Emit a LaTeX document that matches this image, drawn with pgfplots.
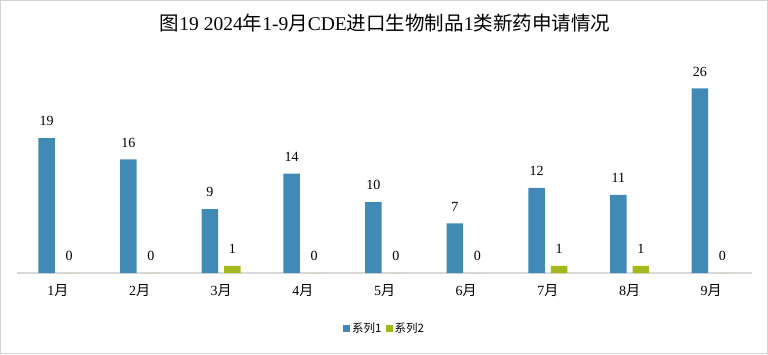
\documentclass[border=0pt]{standalone}
\usepackage{pgfplots}
\pgfplotsset{compat=1.18}
\usepackage{fontspec}
\setmainfont{Liberation Serif}
\newfontfamily\cjk{Noto Sans CJK SC}
\definecolor{sblue}{RGB}{64,138,181}
\definecolor{sgreen}{RGB}{163,185,30}
\begin{document}
\begin{tikzpicture}[x=1pt,y=1pt]
\draw[gray!35, line width=1pt] (0.5,0.5) rectangle (767.5,353.5);
\node[font=\fontsize{19.5}{19.5}\selectfont] at (385,331) {{\cjk 图}19 2024{\cjk 年}1-9{\cjk 月}CDE{\cjk 进口生物制品}1{\cjk 类新药申请情况}};
\begin{axis}[
  at={(17pt,81pt)}, anchor=south west,
  scale only axis, width=735pt, height=213pt,
  ymin=0, ymax=30, xmin=-0.5, xmax=8.5,
  ybar=6pt, bar width=16.5pt,
  axis y line=none, axis x line*=bottom,
  x axis line style={draw=gray!30, line width=1.2pt},
  xtick={0,...,8}, xticklabels={1{\cjk 月},2{\cjk 月},3{\cjk 月},4{\cjk 月},5{\cjk 月},6{\cjk 月},7{\cjk 月},8{\cjk 月},9{\cjk 月}},
  major tick length=0pt,
  xticklabel style={font=\fontsize{14}{14}\selectfont, yshift=-8pt},
  /pgf/number format/assume math mode=true,
  nodes near coords,
  nodes near coords style={font=\fontsize{14}{14}\selectfont, anchor=south, inner sep=0pt, yshift=12pt},
  legend columns=2,
  legend style={draw=none, at={(0.5,-0.215)}, anchor=north, font=\fontsize{11.5}{11.5}\selectfont\cjk,
    /tikz/every even column/.append style={column sep=2pt}},
  legend image code/.code={\fill[#1] (0pt,-3.5pt) rectangle (7pt,3.5pt);},
]
\addplot[fill=sblue, draw=none] coordinates {(0,19) (1,16) (2,9) (3,14) (4,10) (5,7) (6,12) (7,11) (8,26)};
\addplot[fill=sgreen, draw=none] coordinates {(0,0) (1,0) (2,1) (3,0) (4,0) (5,0) (6,1) (7,1) (8,0)};
\legend{系列1,系列2}
\end{axis}
\end{tikzpicture}
\end{document}
